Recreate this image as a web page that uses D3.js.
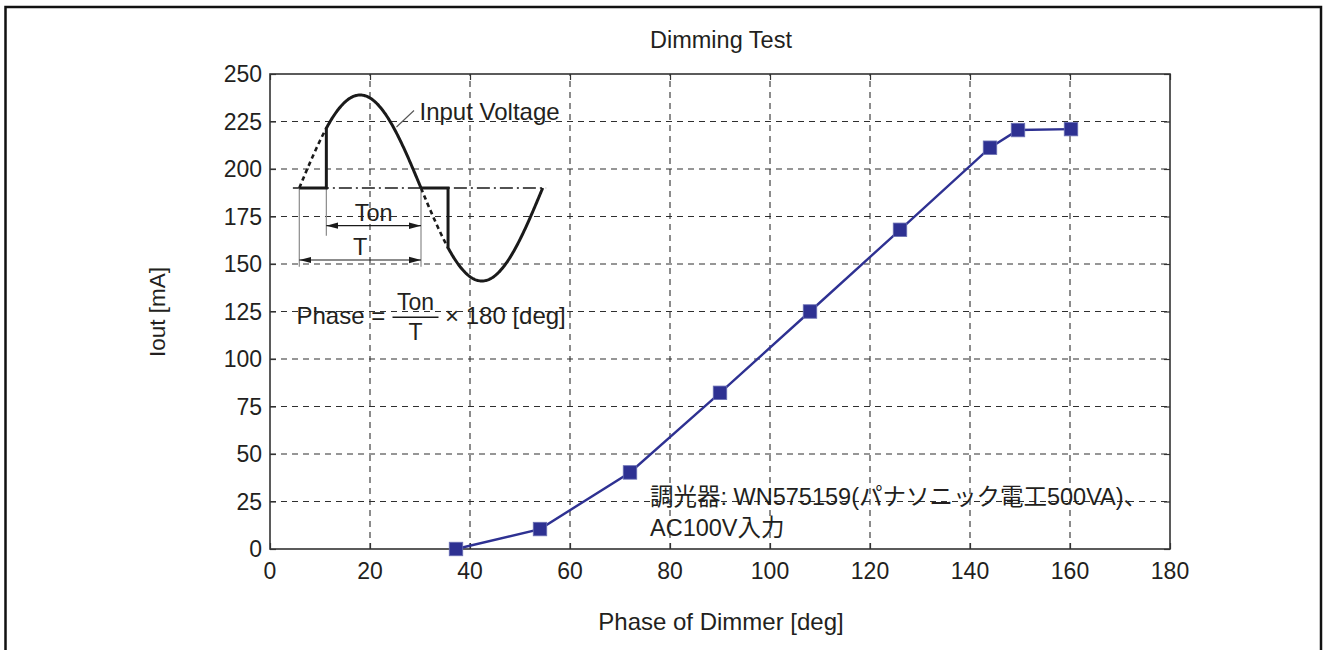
<!DOCTYPE html>
<html>
<head>
<meta charset="utf-8">
<script src="https://cdn.jsdelivr.net/npm/d3@7"></script>
<style>
  html, body { margin: 0; padding: 0; background: #fff; }
  svg { display: block; }
  text { font-family: "Liberation Sans", Arial, "Noto Sans CJK JP", sans-serif; fill: #231f20; }
</style>
</head>
<body>
<svg id="chart" width="1328" height="650"></svg>
<script>
// Measured dimming curve: output current vs. dimmer phase angle
const phaseDeg = [37.2, 54, 72, 90, 108, 126, 144, 149.6, 160.2];
const ioutMA   = [0, 10.5, 40.3, 82.2, 125, 168, 211.2, 220.5, 221];

const xTicks = [0, 20, 40, 60, 80, 100, 120, 140, 160, 180];
const yTicks = [0, 25, 50, 75, 100, 125, 150, 175, 200, 225, 250];

const titleText = "Dimming Test";
const xTitle = "Phase of Dimmer [deg]";
const yTitle = "Iout [mA]";
const noteLines = ["調光器: WN575159(パナソニック電工500VA)、", "AC100V入力"];

// Inset schematic of the phase-cut input voltage (angles in degrees)
const firingAngle = 40;

const svg = d3.select("#chart");
const W = 1328, H = 650;
const margin = { left: 270, right: 158, top: 74, bottom: 101 };
const plotW = W - margin.left - margin.right;   // 900
const plotH = H - margin.top - margin.bottom;   // 475

// outer frame
svg.append("rect")
  .attr("x", 5.5).attr("y", 7).attr("width", 1315.5).attr("height", 700)
  .attr("fill", "none").attr("stroke", "#111").attr("stroke-width", 2.5);

const x = d3.scaleLinear().domain([0, 180]).range([margin.left, margin.left + plotW]);
const y = d3.scaleLinear().domain([0, 250]).range([margin.top + plotH, margin.top]);

const g = svg.append("g");

// grid
const gridStyle = sel => sel.attr("stroke", "#2f2f2f").attr("stroke-width", 1.1)
  .attr("stroke-dasharray", "6,5").attr("fill", "none");

g.append("g").selectAll("line").data(xTicks.slice(1, -1)).join("line")
  .attr("x1", d => x(d)).attr("x2", d => x(d))
  .attr("y1", y(0)).attr("y2", y(250)).call(gridStyle);
g.append("g").selectAll("line").data(yTicks.slice(1, -1)).join("line")
  .attr("y1", d => y(d)).attr("y2", d => y(d))
  .attr("x1", x(0)).attr("x2", x(180)).call(gridStyle);

// inset background hides the grid under the schematic
g.append("rect")
  .attr("x", x(0) + 1).attr("y", y(250) + 1)
  .attr("width", x(61) - x(0)).attr("height", y(250) - y(110) + 3)
  .attr("fill", "#fff");

// axes with inward ticks on all four sides
const axisColor = "#333";
const tickLen = 6;
function styleAxis(sel) {
  sel.select(".domain").remove();
  sel.selectAll(".tick line").attr("stroke", axisColor).attr("stroke-width", 1.2);
  sel.selectAll(".tick text").remove();
}
g.append("g").attr("transform", `translate(0,${y(0)})`)
  .call(d3.axisTop(x).tickValues(xTicks).tickSize(tickLen)).call(styleAxis);
g.append("g").attr("transform", `translate(0,${y(250)})`)
  .call(d3.axisBottom(x).tickValues(xTicks).tickSize(tickLen)).call(styleAxis);
g.append("g").attr("transform", `translate(${x(0)},0)`)
  .call(d3.axisRight(y).tickValues(yTicks).tickSize(tickLen)).call(styleAxis);
g.append("g").attr("transform", `translate(${x(180)},0)`)
  .call(d3.axisLeft(y).tickValues(yTicks).tickSize(tickLen)).call(styleAxis);

g.append("rect")
  .attr("x", x(0)).attr("y", y(250))
  .attr("width", x(180) - x(0)).attr("height", y(0) - y(250))
  .attr("fill", "none").attr("stroke", axisColor).attr("stroke-width", 1.6);

// tick labels
g.append("g").selectAll("text").data(xTicks).join("text")
  .attr("x", d => x(d)).attr("y", y(0) + 29.5)
  .attr("text-anchor", "middle").attr("font-size", 23)
  .text(d => d);
g.append("g").selectAll("text").data(yTicks).join("text")
  .attr("x", x(0) - 8).attr("y", d => y(d) + 8.3)
  .attr("text-anchor", "end").attr("font-size", 23)
  .text(d => d);

// titles
svg.append("text").attr("x", 721).attr("y", 47.5)
  .attr("text-anchor", "middle").attr("font-size", 23.5).text(titleText);
svg.append("text").attr("x", 721).attr("y", 630)
  .attr("text-anchor", "middle").attr("font-size", 24).text(xTitle);
svg.append("text")
  .attr("transform", `translate(165,312) rotate(-90)`)
  .attr("text-anchor", "middle").attr("font-size", 22.5).text(yTitle);

// data line and markers
const pts = phaseDeg.map((p, i) => [p, ioutMA[i]]);
const lineColor = "#2e3192";
g.append("path").datum(pts)
  .attr("d", d3.line().x(d => x(d[0])).y(d => y(d[1])))
  .attr("fill", "none").attr("stroke", lineColor).attr("stroke-width", 2.4);
const ms = 13.5;
g.append("g").selectAll("rect").data(pts).join("rect")
  .attr("x", d => x(d[0]) - ms / 2).attr("y", d => y(d[1]) - ms / 2)
  .attr("width", ms).attr("height", ms)
  .attr("fill", lineColor).attr("stroke", "#6b70b4").attr("stroke-width", 0.8);

// note
const note = svg.append("text").attr("font-size", 23.5);
noteLines.forEach((t, i) => {
  note.append("tspan").attr("x", 650).attr("y", 505 + i * 30.5).text(t);
});

// ---------- inset: phase-cut waveform ----------
const ix = d3.scaleLinear().domain([0, 180]).range([299.3, 421]);
const iy = d3.scaleLinear().domain([-1, 1]).range([281, 95]);
const base = iy(0);
const ink = "#1a1a1a";
const sine = d => [d, Math.sin(d * Math.PI / 180)];
const wave = d3.line().x(d => ix(d[0])).y(d => iy(d[1]));

const defs = svg.append("defs");
defs.append("marker").attr("id", "arrowEnd")
  .attr("viewBox", "0 0 12 8").attr("refX", 12).attr("refY", 4)
  .attr("markerWidth", 12).attr("markerHeight", 8)
  .attr("markerUnits", "userSpaceOnUse").attr("orient", "auto")
  .append("path").attr("d", "M0,0.8 L12,4 L0,7.2 Z").attr("fill", ink);
defs.append("marker").attr("id", "arrowStart")
  .attr("viewBox", "0 0 12 8").attr("refX", 0).attr("refY", 4)
  .attr("markerWidth", 12).attr("markerHeight", 8)
  .attr("markerUnits", "userSpaceOnUse").attr("orient", "auto")
  .append("path").attr("d", "M12,0.8 L0,4 L12,7.2 Z").attr("fill", ink);

const inset = svg.append("g");

// zero line (dash-dot)
inset.append("line")
  .attr("x1", ix(-9.5)).attr("x2", ix(365)).attr("y1", base).attr("y2", base)
  .attr("stroke", ink).attr("stroke-width", 1.3).attr("stroke-dasharray", "13,4,2,4");

// extension lines
const ext = [[0, 266.7], [firingAngle, 235.7], [180, 266.7]];
inset.append("g").selectAll("line").data(ext).join("line")
  .attr("x1", d => ix(d[0])).attr("x2", d => ix(d[0]))
  .attr("y1", base).attr("y2", d => d[1])
  .attr("stroke", "#8a8a8a").attr("stroke-width", 1.2);

// cut-off portions (dotted)
[[0, firingAngle], [180, 180 + firingAngle]].forEach(([a, b]) => {
  inset.append("path").datum(d3.range(a, b + 0.5, 2).map(sine))
    .attr("d", wave).attr("fill", "none").attr("stroke", ink)
    .attr("stroke-width", 2.6).attr("stroke-dasharray", "4.5,3.5");
});

// conducting portions: flat until firing, jump up, then follow the sine
[[firingAngle, 180], [180 + firingAngle, 360]].forEach(([a, b]) => {
  const pathData = [[a - firingAngle, 0], [a, 0]]
    .concat(d3.range(a, b + 0.5, 1).map(sine));
  pathData[pathData.length - 1] = [b, 0];
  inset.append("path").datum(pathData)
    .attr("d", wave).attr("fill", "none").attr("stroke", ink)
    .attr("stroke-width", 3).attr("stroke-linejoin", "miter");
});

// dimension arrows
inset.append("line")
  .attr("x1", ix(firingAngle)).attr("x2", ix(180)).attr("y1", 225.7).attr("y2", 225.7)
  .attr("stroke", ink).attr("stroke-width", 1.2)
  .attr("marker-start", "url(#arrowStart)").attr("marker-end", "url(#arrowEnd)");
inset.append("line")
  .attr("x1", ix(0)).attr("x2", ix(180)).attr("y1", 260).attr("y2", 260)
  .attr("stroke", ink).attr("stroke-width", 1.2)
  .attr("marker-start", "url(#arrowStart)").attr("marker-end", "url(#arrowEnd)");

inset.append("text").attr("x", (ix(firingAngle) + ix(180)) / 2).attr("y", 220.5)
  .attr("text-anchor", "middle").attr("font-size", 23.5).text("Ton");
inset.append("text").attr("x", (ix(0) + ix(180)) / 2).attr("y", 254.5)
  .attr("text-anchor", "middle").attr("font-size", 23.5).text("T");

// waveform label with leader
inset.append("line")
  .attr("x1", 414).attr("y1", 110.5).attr("x2", 396.5).attr("y2", 127)
  .attr("stroke", "#555").attr("stroke-width", 1.1);
inset.append("text").attr("x", 419.5).attr("y", 119.5)
  .attr("font-size", 24).text("Input Voltage");

// phase formula
inset.append("text").attr("x", 296.5).attr("y", 324)
  .attr("font-size", 24).text("Phase =");
inset.append("text").attr("x", 415.5).attr("y", 309.5)
  .attr("text-anchor", "middle").attr("font-size", 23).text("Ton");
inset.append("line").attr("x1", 392.5).attr("x2", 438.5)
  .attr("y1", 317.3).attr("y2", 317.3).attr("stroke", ink).attr("stroke-width", 1.4);
inset.append("text").attr("x", 415.5).attr("y", 340)
  .attr("text-anchor", "middle").attr("font-size", 23).text("T");
inset.append("text").attr("x", 445).attr("y", 324)
  .attr("font-size", 24).text("× 180 [deg]");
</script>
</body>
</html>
